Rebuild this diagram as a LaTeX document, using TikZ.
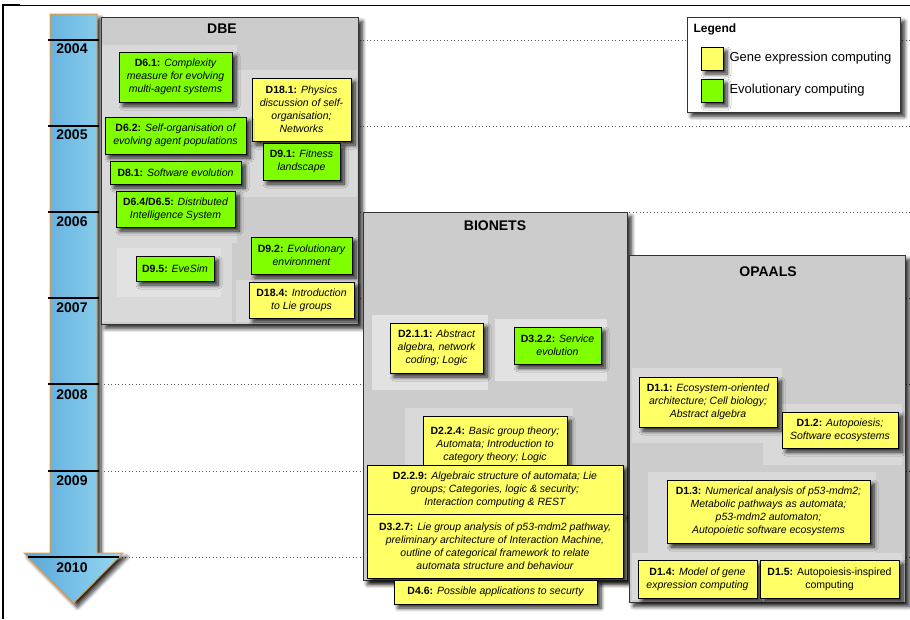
\documentclass[tikz,border=0pt]{standalone}
\usepackage{fontspec}
\setmainfont{Liberation Sans}
\usetikzlibrary{shadows.blur}
\definecolor{yel}{HTML}{FFFF66}
\definecolor{grn}{HTML}{80FF00}
\definecolor{regiongray}{HTML}{CCCCCC}
\definecolor{panelgray}{HTML}{D9D9D9}
\definecolor{panellight}{HTML}{E2E2E2}
\definecolor{arrowL}{HTML}{5AA6DA}
\definecolor{arrowR}{HTML}{95D9F1}
\definecolor{arrowedge}{HTML}{F0962E}
\newcommand\dlab[1]{{\upshape\bfseries #1}}
\begin{document}
\begin{tikzpicture}[x=1pt,y=-1pt,
 shad/.style={blur shadow={shadow xshift=4pt, shadow yshift=-4pt, shadow blur steps=8, shadow opacity=85, shadow blur radius=4pt}},
 item/.style={draw=black, line width=0.8pt, shad, align=center, inner sep=1pt, font=\fontsize{10.5}{13}\selectfont\itshape},
 ybox/.style={item, fill=yel},
 gbox/.style={item, fill=grn},
 region/.style={draw=black!80, line width=0.8pt, fill=regiongray, shad, anchor=north west, inner sep=0pt},
 panel/.style={fill=panelgray},
 lpanel/.style={fill=panellight},
 title/.style={font=\fontsize{14}{16}\selectfont\bfseries},
 year/.style={font=\fontsize{14}{16}\selectfont\bfseries},
 yearline/.style={line width=1.2pt},
 gridline/.style={dash pattern=on 1pt off 2.5pt, line width=1pt, black!65},
 legsq/.style={draw=black, line width=0.8pt, shad, minimum width=22pt, minimum height=23pt, inner sep=0pt},
 legtext/.style={font=\fontsize{13}{15}\selectfont, anchor=west},
]
\useasboundingbox (0,0) rectangle (910,619);

% frame
\draw[line width=1.5pt] (3,619) -- (3,5) -- (20,5);
\draw[line width=0.8pt] (20,5) -- (910,5);

% dotted year lines
\foreach \yy in {40,126,212,298,384,471,557}
  \draw[gridline] (104,\yy) -- (910,\yy);

% timeline arrow
\path[draw=arrowedge, line width=1pt, left color=arrowL, right color=arrowR, shad]
  (50,14) -- (97,14) -- (97,553) -- (123,553) -- (73.5,603) -- (24,553) -- (50,553) -- cycle;
\foreach \yy in {40,126,212,298,384,471}
  \draw[yearline] (48,\yy) -- (99,\yy);
\draw[yearline] (28,557) -- (119,557);
\node[year] (y2004) at (72,49) {2004};
\node[year] (y2005) at (72,135) {2005};
\node[year] (y2006) at (72,222) {2006};
\node[year] (y2007) at (72,308) {2007};
\node[year] (y2008) at (72,395) {2008};
\node[year] (y2009) at (72,481) {2009};
\node[year] (y2010) at (72,568) {2010};

% ---------------- DBE
\node[region, minimum width=257pt, minimum height=307pt] (dbe) at (101,17) {};
\fill[panel] (102,45) rectangle (237,243);
\fill[panel] (237,70) rectangle (357,197);
\fill[panel] (102,243) rectangle (232,322);
\fill[lpanel] (117,248) rectangle (221,297);
\fill[panel] (236,280) rectangle (357,322);
\node[title] (dbet) at (222,29) {DBE};

\node[gbox, minimum width=113pt, minimum height=50pt] (d61) at (175.5,77) {\dlab{D6.1:} Complexity\\measure for evolving\\multi-agent systems};
\node[ybox, minimum width=99pt, minimum height=63pt] (d181) at (301.5,109.5) {\dlab{D18.1:} Physics\\discussion of self-\\organisation;\\Networks};
\node[gbox, minimum width=141pt, minimum height=37pt] (d62) at (175.5,135.5) {\dlab{D6.2:} Self-organisation of\\evolving agent populations};
\node[gbox, minimum width=77pt, minimum height=37pt] (d91) at (301.5,161.5) {\dlab{D9.1:} Fitness\\landscape};
\node[gbox, minimum width=131pt, minimum height=23pt] (d81) at (175.5,172.5) {\dlab{D8.1:} Software evolution};
\node[gbox, minimum width=119pt, minimum height=36pt] (d645) at (175.5,209) {\dlab{D6.4/D6.5:} Distributed\\Intelligence System};
\node[gbox, minimum width=101pt, minimum height=37pt] (d92) at (301.5,255.5) {\dlab{D9.2:} Evolutionary\\environment};
\node[gbox, minimum width=78pt, minimum height=25pt] (d95) at (175,268.5) {\dlab{D9.5:} EveSim};
\node[ybox, minimum width=105pt, minimum height=36pt] (d184) at (301.5,300) {\dlab{D18.4:} Introduction\\to Lie groups};

% ---------------- BIONETS
\node[region, minimum width=264pt, minimum height=368pt] (bio) at (363,212) {};
\fill[lpanel] (372,315) rectangle (488,390);
\fill[lpanel] (495,319) rectangle (607,381);
\fill[panel] (405,408) rectangle (573,465);
\node[title] (biot) at (495,226) {BIONETS};

\node[ybox, minimum width=93pt, minimum height=50pt] (d211) at (436.5,348) {\dlab{D2.1.1:} Abstract\\algebra, network\\coding; Logic};
\node[gbox, minimum width=87pt, minimum height=37pt] (d322) at (557.5,345.5) {\dlab{D3.2.2:} Service\\evolution};
\node[ybox, minimum width=144pt, minimum height=56pt, anchor=north] (d224) at (495,416) {\dlab{D2.2.4:} Basic group theory;\\Automata; Introduction to\\category theory; Logic};
\node[ybox, minimum width=256pt, minimum height=49pt] (d229) at (495,489.5) {\dlab{D2.2.9:} Algebraic structure of automata; Lie\\groups; Categories, logic \& security;\\Interaction computing \& REST};
\node[ybox, minimum width=256pt, minimum height=64pt] (d327) at (495,546) {\dlab{D3.2.7:} Lie group analysis of p53-mdm2 pathway,\\preliminary architecture of Interaction Machine,\\outline of categorical framework to relate\\automata structure and behaviour};
\node[ybox, minimum width=203pt, minimum height=24pt] (d46) at (495.5,592) {\dlab{D4.6:} Possible applications to securty};

% ---------------- OPAALS
\node[region, minimum width=276pt, minimum height=347pt] (opa) at (629,255) {};
\fill[panel] (632,368) rectangle (782,443);
\fill[panel] (763,404) rectangle (902,465);
\fill[panel] (648,472) rectangle (876,553);
\fill[panel] (632,553) rectangle (902,600);
\node[title] (opat) at (768,272) {OPAALS};

\node[ybox, minimum width=138pt, minimum height=50pt] (d11) at (708,402) {\dlab{D1.1:} Ecosystem-oriented\\architecture; Cell biology;\\Abstract algebra};
\node[ybox, minimum width=116pt, minimum height=36pt] (d12) at (840,430) {\dlab{D1.2:} Autopoiesis;\\Software ecosystems};
\node[ybox, minimum width=203pt, minimum height=63pt] (d13) at (768.5,511.5) {\dlab{D1.3:} Numerical analysis of p53-mdm2;\\Metabolic pathways as automata;\\p53-mdm2 automaton;\\Autopoietic software ecosystems};
\node[ybox, minimum width=119pt, minimum height=38pt] (d14) at (697.5,579) {\dlab{D1.4:} Model of gene\\expression computing};
\node[ybox, minimum width=139pt, minimum height=38pt] (d15) at (829.5,579) {\upshape\dlab{D1.5:} Autopoiesis-inspired\\\upshape computing};

% ---------------- Legend
\node[draw=black!80, line width=0.8pt, fill=white, shad, anchor=north west, minimum width=213pt, minimum height=95pt, inner sep=0pt] (legend) at (687,17) {};
\node[font=\fontsize{12}{14}\selectfont\bfseries, anchor=west] (legt) at (690,29) {Legend};
\node[legsq, fill=yel] (legy) at (712,58.5) {};
\node[legsq, fill=grn] (legg) at (712,90.5) {};
\node[legtext] (legyt) at (726,58.5) {Gene expression computing};
\node[legtext] (leggt) at (726,90.5) {Evolutionary computing};
\end{tikzpicture}
\end{document}
